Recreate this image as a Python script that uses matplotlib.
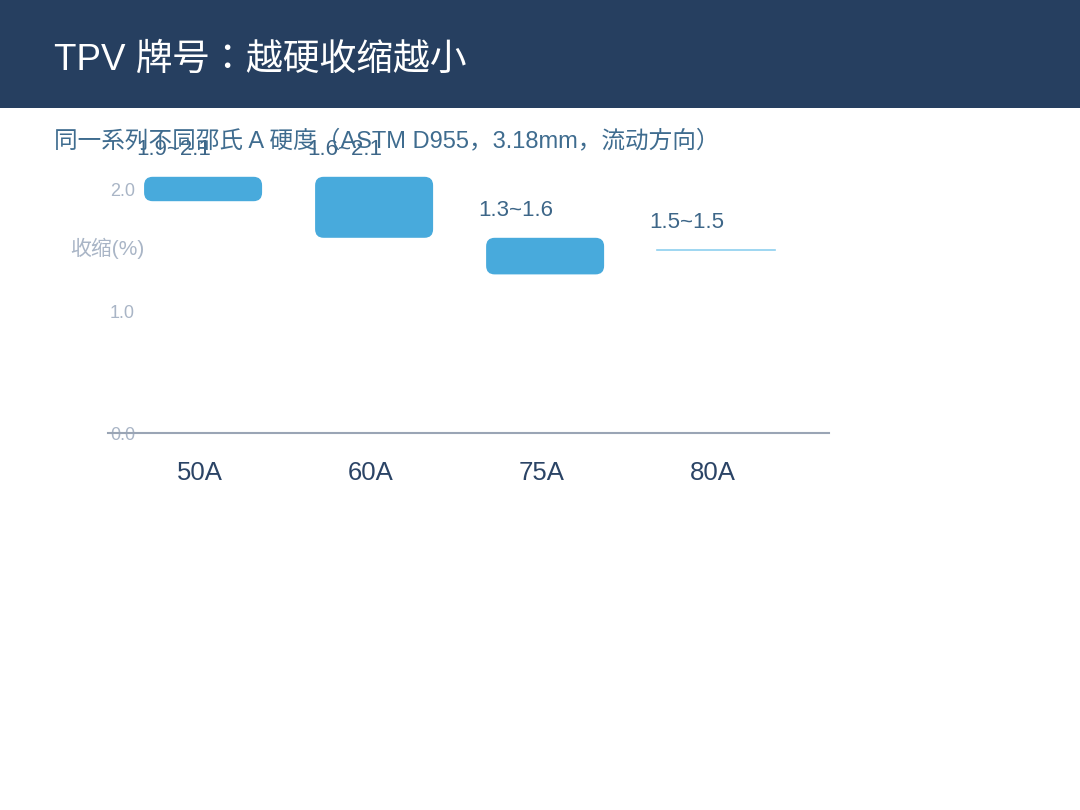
import matplotlib
matplotlib.use("Agg")
import matplotlib.pyplot as plt
from matplotlib.patches import FancyBboxPatch, Rectangle

plt.rcParams['font.family'] = ['Liberation Sans', 'Noto Sans CJK KR', 'DejaVu Sans']

grades = ["50A", "60A", "75A", "80A"]
low = [1.9, 1.6, 1.3, 1.5]
high = [2.1, 2.1, 1.6, 1.5]
yticks = [0.0, 1.0, 2.0]

title = "TPV 牌号：越硬收缩越小"
subtitle = "同一系列不同邵氏 A 硬度（ASTM D955，3.18mm，流动方向）"

navy = "#263F60"
bar_color = "#48AADC"

fig = plt.figure(figsize=(10.8, 8.1), dpi=100)

# header band
fig.patches.append(Rectangle((0, 1 - 108 / 810), 1, 108 / 810, transform=fig.transFigure,
                             facecolor=navy, edgecolor="none", zorder=0))
fig.text(54 / 1080, 1 - 60 / 810, title, color="white", fontsize=26.5, va="center", ha="left")
fig.text(54 / 1080, 1 - 141 / 810, subtitle, color="#3F6C8F", fontsize=17, va="center", ha="left")

ax = fig.add_axes([108 / 1080, 1 - 433 / 810, (829 - 108) / 1080, (433 - 164.6) / 810])
ax.set_xlim(-0.538, 3.678)
ax.set_ylim(0, 2.2)
ax.patch.set_alpha(0)

x = list(range(len(grades)))
w = 0.69
shift = 0.018
for i in x:
    h = high[i] - low[i]
    c = i + shift
    if h > 0:
        p = FancyBboxPatch((c - w / 2, low[i]), w, h,
                           boxstyle="round,pad=0,rounding_size=0.05",
                           mutation_aspect=171 / 122,
                           facecolor=bar_color, edgecolor="none")
        ax.add_patch(p)
    else:
        ax.plot([c - w / 2, c + w / 2], [low[i], high[i]], color="#8ECFEF", lw=1.2)
    ax.annotate(f"{low[i]}~{high[i]}", (c, high[i]), xytext=(-21, 19.5),
                textcoords="offset points", ha="center", va="center",
                fontsize=16, color="#3D6688")

ax.set_xticks(x)
ax.set_xticklabels(grades, fontsize=18.5, color="#2B4466")
ax.set_yticks(yticks)
ax.set_yticklabels([f"{v:.1f}" for v in yticks], fontsize=13, color="#A9B5C6")
ax.tick_params(axis="x", length=0, pad=20)
ax.tick_params(axis="y", length=0, pad=-19.5)

for s in ["top", "right", "left"]:
    ax.spines[s].set_visible(False)
ax.spines["bottom"].set_color("#9AA5B5")
ax.spines["bottom"].set_linewidth(1.5)

fig.text(107 / 1080, 1 - 248 / 810, "收缩(%)", color="#A9B5C6", fontsize=15,
         ha="center", va="center")

fig.savefig("out.png", dpi=100)
